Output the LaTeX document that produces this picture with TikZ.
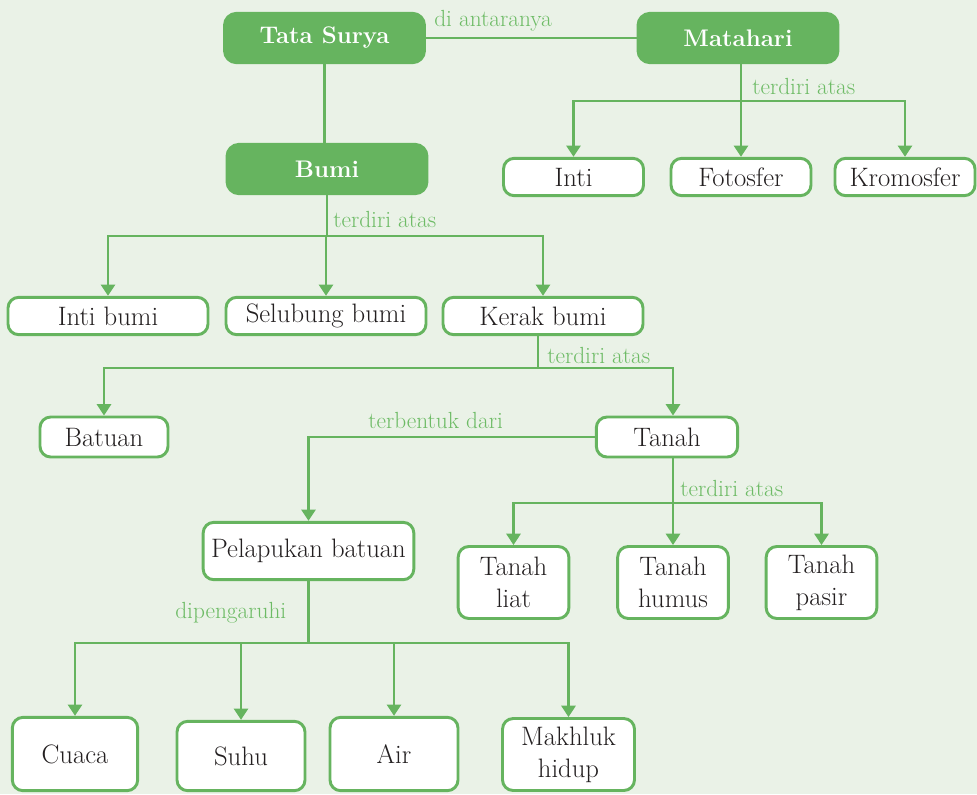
\documentclass[tikz,border=0pt]{standalone}
\usetikzlibrary{arrows.meta}
\definecolor{hijau}{HTML}{66B45F}
\definecolor{hijaumuda}{HTML}{6DBB65}
\definecolor{latar}{HTML}{EAF2E7}
\definecolor{teks}{HTML}{231F20}
\begin{document}
\begin{tikzpicture}[
        x=0.75pt, y=-0.75pt,
        >={Triangle[width=10.5pt,length=8.5pt]}, % ujung panah segitiga penuh
        kepala/.style={draw=hijau, fill=hijau, line width=2.2pt, rounded corners=9pt, minimum width=150pt, minimum height=37pt, text=white, font=\fontsize{18}{21}\selectfont\bfseries},
        kotak/.style={draw=hijau, fill=white, line width=2.2pt, rounded corners=8pt, align=center, inner sep=2pt, text=teks, font=\fontsize{20}{24}\selectfont},
        garis/.style={draw=hijau, line width=2.2pt},
        ket/.style={text=hijaumuda, font=\fontsize{17.5}{20}\selectfont, inner sep=0pt, anchor=base west}
    ]

    % --- Latar ---
    \fill[latar] (0,0) rectangle (977,794);
    \useasboundingbox (0,0) rectangle (977,794);

    % --- Simpul utama ---
    \node[kepala] (tatasurya) at (324.5,38) {Tata Surya};
    \node[kepala] (matahari) at (738,38) {Matahari};
    \node[kepala] (bumi) at (327,169) {Bumi};

    % --- Bagian Matahari ---
    \node[kotak, minimum width=105pt, minimum height=28pt] (inti) at (573.5,177) {Inti};
    \node[kotak, minimum width=105pt, minimum height=28pt] (fotosfer) at (741,177) {Fotosfer};
    \node[kotak, minimum width=105pt, minimum height=28pt] (kromosfer) at (905,177) {Kromosfer};

    % --- Bagian Bumi ---
    \node[kotak, minimum width=150pt, minimum height=28pt] (intibumi) at (108,316) {Inti bumi};
    \node[kotak, minimum width=150pt, minimum height=28pt] (selubung) at (326,316) {Selubung bumi};
    \node[kotak, minimum width=150pt, minimum height=28pt] (kerak) at (543,316) {Kerak bumi};

    % --- Kerak bumi ---
    \node[kotak, minimum width=96pt, minimum height=30pt] (batuan) at (104,437) {Batuan};
    \node[kotak, minimum width=106pt, minimum height=30pt] (tanah) at (667,437) {Tanah};

    % --- Tanah ---
    \node[kotak, minimum width=158pt, minimum height=43pt] (pelapukan) at (308.5,551) {Pelapukan batuan};
    \node[kotak, minimum width=83pt, minimum height=54pt] (tliat) at (513.5,582.5) {Tanah\\liat};
    \node[kotak, minimum width=83pt, minimum height=54pt] (thumus) at (673,582.5) {Tanah\\humus};
    \node[kotak, minimum width=83pt, minimum height=54pt] (tpasir) at (821.5,582.5) {Tanah\\pasir};

    % --- Pengaruh pelapukan ---
    \node[kotak, minimum width=94pt, minimum height=55pt] (cuaca) at (75,754) {Cuaca};
    \node[kotak, minimum width=96pt, minimum height=52pt] (suhu) at (241,756) {Suhu};
    \node[kotak, minimum width=96pt, minimum height=55pt] (air) at (394,754) {Air};
    \node[kotak, minimum width=99pt, minimum height=54pt] (makhluk) at (568.5,754.5) {Makhluk\\hidup};

    % --- Penghubung ---
    \draw[garis] (tatasurya) -- (matahari);
    \draw[garis] (tatasurya.south) -- (tatasurya.south |- bumi.north);

    \draw[garis] (fotosfer.north |- matahari.south) -- (fotosfer.north |- 0,101) coordinate (cabangA);
    \foreach \anak in {inti,fotosfer,kromosfer}
        \draw[garis,->] (cabangA) -| (\anak.north);

    \draw[garis] (bumi.south) -- (bumi.south |- 0,236) coordinate (cabangB);
    \foreach \anak in {intibumi,selubung,kerak}
        \draw[garis,->] (cabangB) -| (\anak.north);

    \draw[garis] (kerak.south) ++(-5,0) coordinate (kerakbawah) -- (kerakbawah |- 0,368) coordinate (cabangC);
    \draw[garis,->] (cabangC) -| (batuan.north);
    \draw[garis,->] (cabangC) -| (thumus.north |- tanah.north);

    \draw[garis,->] (tanah.west) -| (pelapukan.north);

    \draw[garis] (thumus.north |- tanah.south) -- (thumus.north |- 0,503) coordinate (cabangD);
    \foreach \anak in {tliat,thumus,tpasir}
        \draw[garis,->] (cabangD) -| (\anak.north);

    \draw[garis] (pelapukan.south) -- (pelapukan.south |- 0,643) coordinate (cabangE);
    \foreach \anak in {cuaca,suhu,air,makhluk}
        \draw[garis,->] (cabangE) -| (\anak.north);

    % --- Keterangan ---
    \node[ket] (ketA) at (434,26) {di antaranya};
    \node[ket] (ketB) at (752,94) {terdiri atas};
    \node[ket] (ketC) at (333,227) {terdiri atas};
    \node[ket] (ketD) at (547,363) {terdiri atas};
    \node[ket] (ketE) at (368,428) {terbentuk dari};
    \node[ket] (ketF) at (680,496) {terdiri atas};
    \node[ket] (ketG) at (175,618) {dipengaruhi};

\end{tikzpicture}
\end{document}
